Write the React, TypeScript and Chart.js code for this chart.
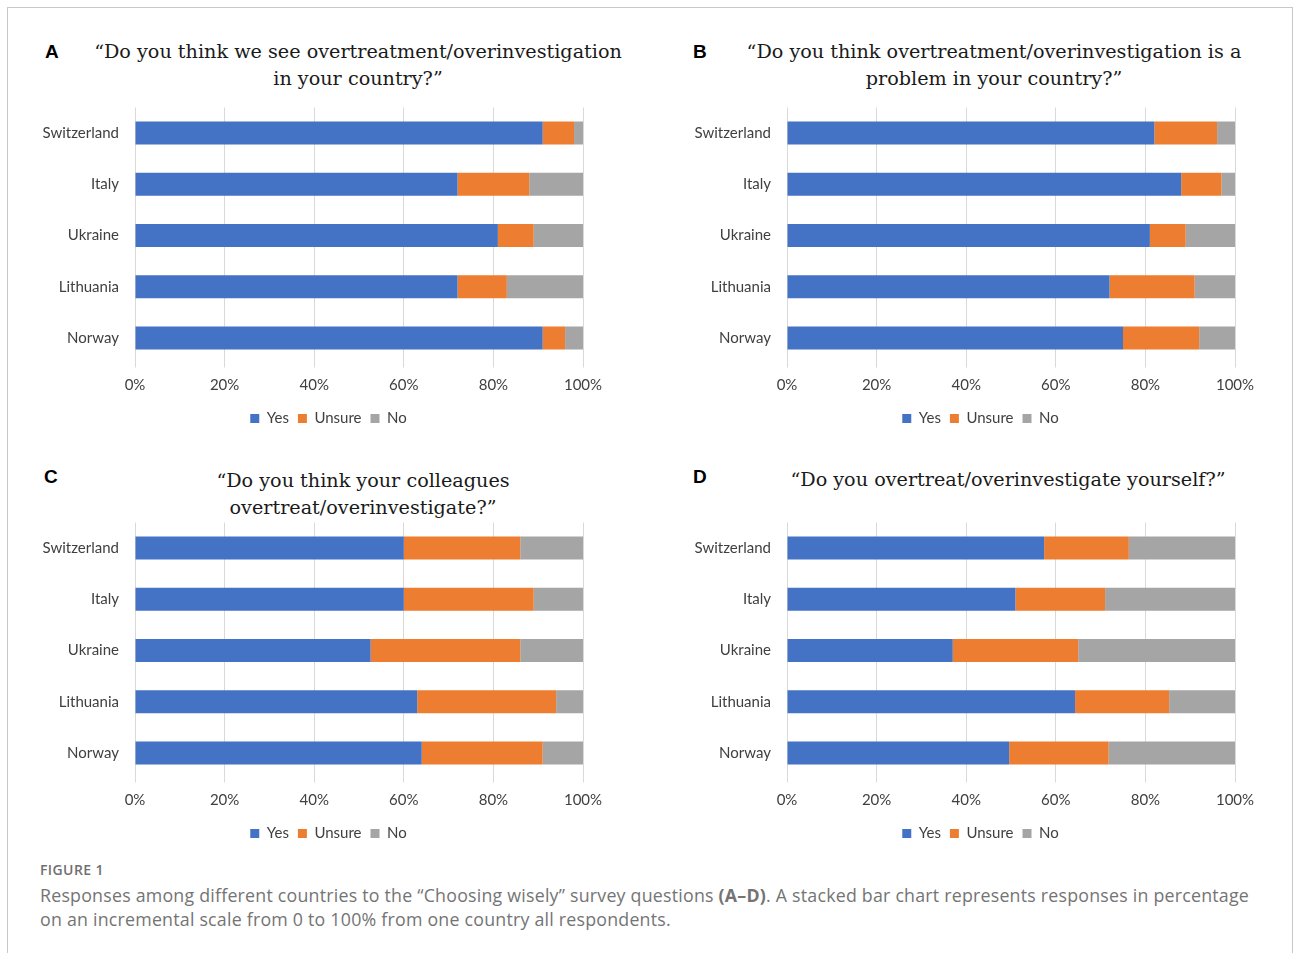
import React, { useEffect, useRef } from "react";
import { Chart, registerables } from "chart.js";

Chart.register(...registerables);

const countries = ["Switzerland", "Italy", "Ukraine", "Lithuania", "Norway"];
const seriesNames = ["Yes", "Unsure", "No"];
const seriesColors = ["#4472C4", "#ED7D31", "#A5A5A5"];
const tickLabels = ["0%", "20%", "40%", "60%", "80%", "100%"];

// Panel A
const yesA = [91, 72, 81, 72, 91];
const unsureA = [7, 16, 8, 11, 5];
const noA = [2, 12, 11, 17, 4];
// Panel B
const yesB = [82, 88, 81, 72, 75];
const unsureB = [14, 9, 8, 19, 17];
const noB = [4, 3, 11, 9, 8];
// Panel C
const yesC = [60, 60, 52.6, 63, 64];
const unsureC = [26, 29, 33.4, 31, 27];
const noC = [14, 11, 14, 6, 9];
// Panel D
const yesD = [57.4, 51, 37, 64.3, 49.6];
const unsureD = [18.9, 20, 28, 21, 22.2];
const noD = [23.7, 29, 35, 14.7, 28.2];

const TEXT = "#404040";
const FONT = "Lato, 'Open Sans', sans-serif";

const legendShift = {
  id: "legendShift",
  afterLayout(chart: any) {
    const l = chart.legend;
    if (l) {
      l.left += 22;
      l.right += 22;
    }
  },
};

function Panel(props: { left: number; top: number; series: number[][] }) {
  const ref = useRef<HTMLCanvasElement>(null);
  useEffect(() => {
    if (!ref.current) return;
    const chart = new Chart(ref.current, {
      type: "bar",
      data: {
        labels: countries,
        datasets: seriesNames.map((name, i) => ({
          label: name,
          data: props.series[i],
          backgroundColor: seriesColors[i],
          borderWidth: 0,
          barPercentage: 0.45,
          categoryPercentage: 1,
        })),
      },
      options: {
        indexAxis: "y",
        responsive: false,
        maintainAspectRatio: false,
        animation: false,
        layout: { padding: { left: 0, right: 47, top: 7.5, bottom: 4 } },
        scales: {
          x: {
            stacked: true,
            min: 0,
            max: 100,
            ticks: {
              stepSize: 20,
              padding: 9,
              color: TEXT,
              font: { family: FONT, size: 15 },
              callback: (v: any) => tickLabels[Math.round(Number(v) / 20)],
            },
            grid: { color: "#d9d9d9", tickLength: 4, lineWidth: 1 },
            border: { display: false },
            afterFit: (s: any) => {
              s.height = 38.5;
              s.paddingLeft = 0;
              s.paddingRight = 0;
            },
          },
          y: {
            stacked: true,
            grid: { display: false, drawTicks: false },
            border: { display: false },
            ticks: {
              padding: 16,
              color: TEXT,
              font: { family: FONT, size: 15 },
            },
            afterFit: (s: any) => {
              s.width = 105;
              s.paddingTop = 0;
              s.paddingBottom = 0;
            },
          },
        },
        plugins: {
          legend: {
            position: "bottom",
            labels: {
              boxWidth: 9,
              boxHeight: 9,
              padding: 9,
              color: TEXT,
              font: { family: FONT, size: 15 },
            },
          },
          tooltip: { enabled: false },
        },
      },
      plugins: [legendShift],
    });
    return () => chart.destroy();
  }, []);
  return (
    <div style={{ position: "absolute", left: props.left, top: props.top, width: 600, height: 340 }}>
      <canvas ref={ref} width={600} height={340} style={{ width: 600, height: 340, display: "block" }} />
    </div>
  );
}

function Title(props: { cx: number; top: number; lines: string[] }) {
  return (
    <div
      style={{
        position: "absolute",
        left: props.cx - 320,
        top: props.top,
        width: 640,
        textAlign: "center",
        fontFamily: "'DejaVu Serif', 'Liberation Serif', serif",
        fontSize: 19.2,
        lineHeight: "27px",
        color: "#1a1a1a",
        whiteSpace: "nowrap",
      }}
    >
      {props.lines.map((l, i) => (
        <div key={i}>{l}</div>
      ))}
    </div>
  );
}

function Letter(props: { x: number; cy: number; text: string }) {
  return (
    <div
      style={{
        position: "absolute",
        left: props.x,
        top: props.cy - 11,
        height: 22,
        lineHeight: "22px",
        fontFamily: "'Liberation Sans', Arial, sans-serif",
        fontWeight: "bold",
        fontSize: 19,
        color: "#000",
      }}
    >
      {props.text}
    </div>
  );
}

export default function App() {
  return (
    <div style={{ position: "fixed", inset: 0, overflow: "hidden", background: "#fff" }}>
      <div
        style={{
          position: "absolute",
          left: 7,
          top: 7,
          width: 1284,
          height: 960,
          border: "1px solid #c8c8c8",
          borderBottom: "none",
        }}
      />
      <Letter x={45} cy={52} text="A" />
      <Letter x={693} cy={52} text="B" />
      <Letter x={44} cy={477} text="C" />
      <Letter x={693} cy={477} text="D" />
      <Title cx={358} top={37.5} lines={["“Do you think we see overtreatment/overinvestigation", "in your country?”"]} />
      <Title cx={994} top={37.5} lines={["“Do you think overtreatment/overinvestigation is a", "problem in your country?”"]} />
      <Title cx={363} top={466.5} lines={["“Do you think your colleagues", "overtreat/overinvestigate?”"]} />
      <Title cx={1008} top={465.5} lines={["“Do you overtreat/overinvestigate yourself?”"]} />
      <Panel left={30} top={100} series={[yesA, unsureA, noA]} />
      <Panel left={682} top={100} series={[yesB, unsureB, noB]} />
      <Panel left={30} top={515} series={[yesC, unsureC, noC]} />
      <Panel left={682} top={515} series={[yesD, unsureD, noD]} />
      <div
        style={{
          position: "absolute",
          left: 40,
          top: 861,
          fontFamily: "'Open Sans', Lato, sans-serif",
          fontSize: 14,
          fontWeight: 600,
          lineHeight: "18px",
          letterSpacing: 0.4,
          color: "#707070",
        }}
      >
        FIGURE 1
      </div>
      <div
        style={{
          position: "absolute",
          left: 40,
          top: 883,
          fontFamily: "'Open Sans', Lato, sans-serif",
          fontSize: 17.8,
          letterSpacing: 0.22,
          lineHeight: "24px",
          color: "#747474",
          whiteSpace: "nowrap",
        }}
      >
        Responses among different countries to the “Choosing wisely” survey questions <b>(A–D)</b>. A stacked bar chart represents responses in percentage
        <br />
        on an incremental scale from 0 to 100% from one country all respondents.
      </div>
    </div>
  );
}
